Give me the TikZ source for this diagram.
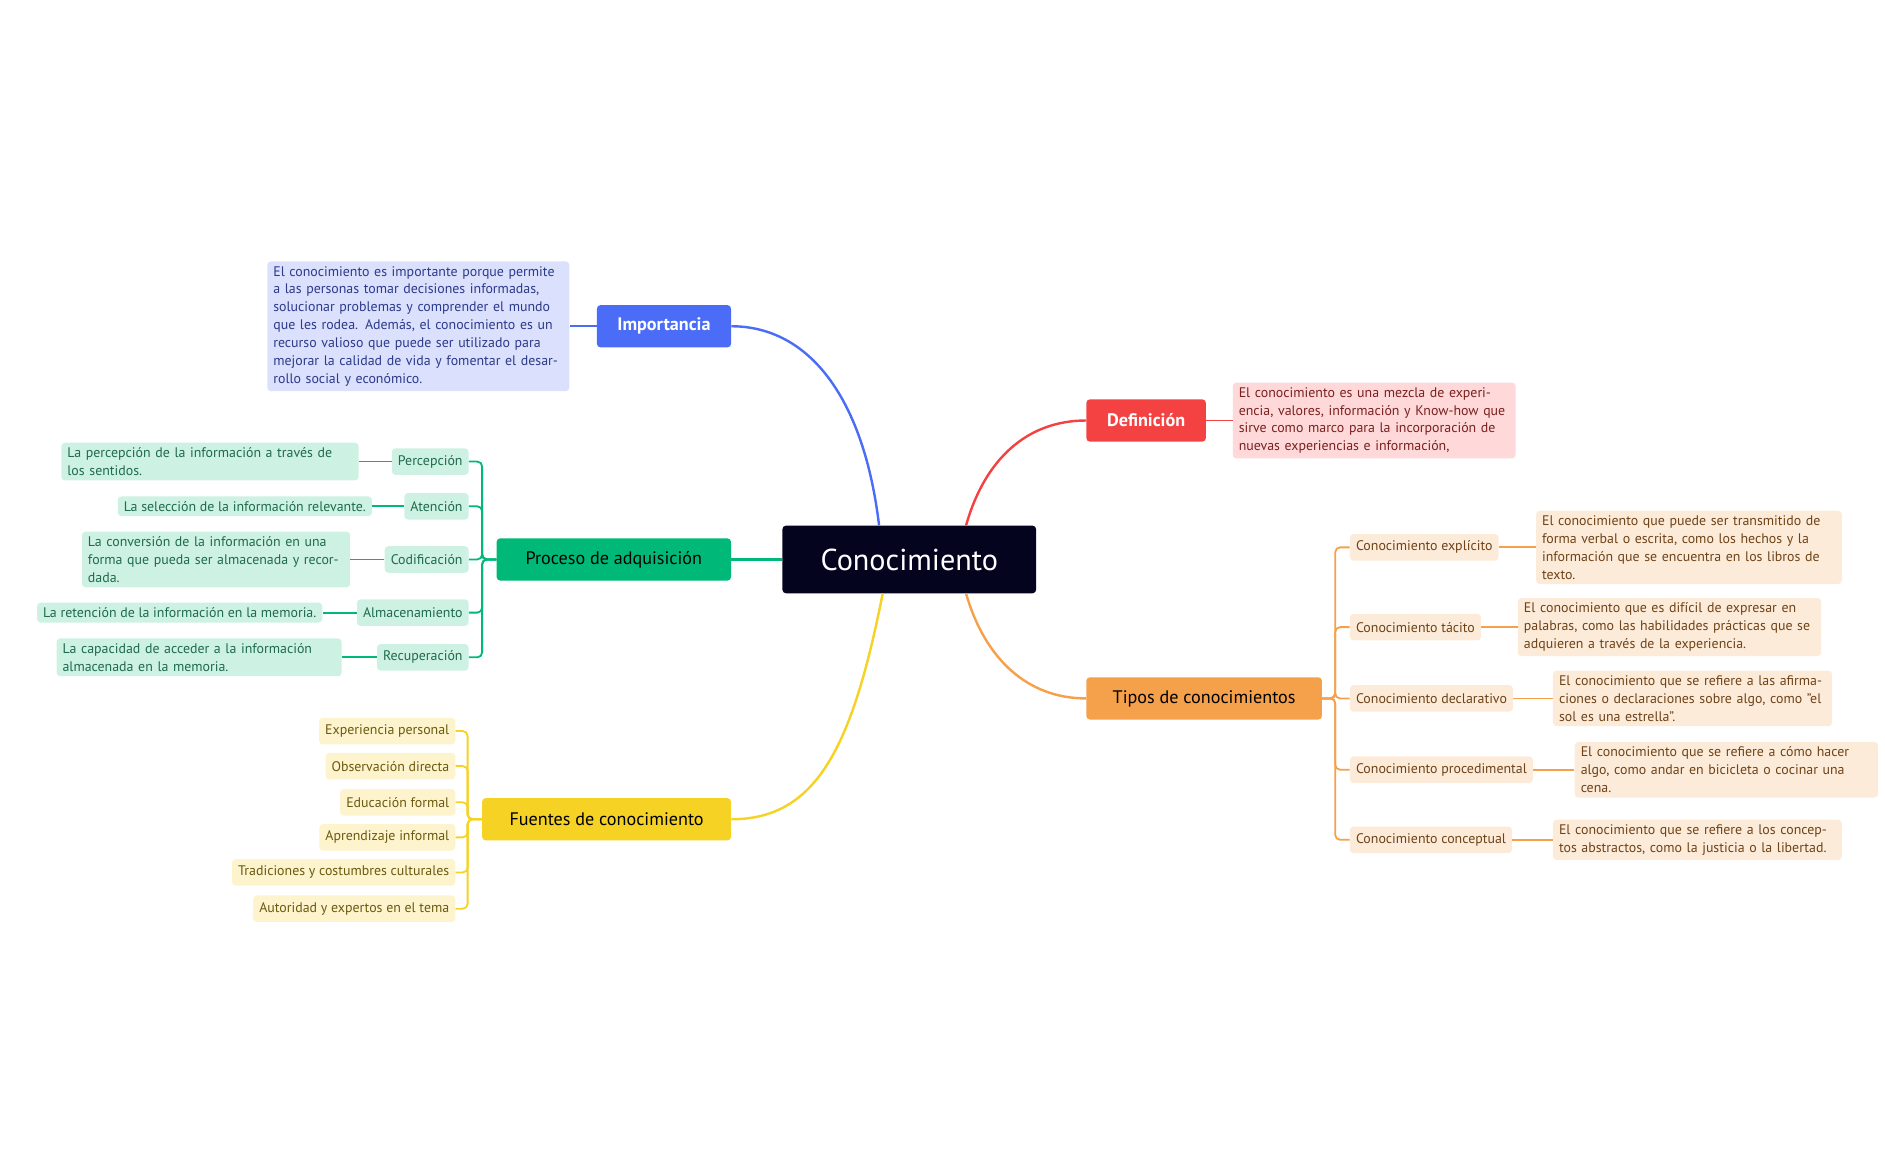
\documentclass[tikz,border=0pt]{standalone}
\usepackage{fontspec}
\setmainfont{PT Sans}
\usetikzlibrary{calc}
\definecolor{navy}{HTML}{05041F}
\definecolor{iblue}{HTML}{4A6CF7}\definecolor{iblueL}{HTML}{DBE0FD}\definecolor{iblueT}{HTML}{2C3A8A}
\definecolor{dred}{HTML}{F44242}\definecolor{dredL}{HTML}{FFD9D9}\definecolor{dredT}{HTML}{7A2020}
\definecolor{gor}{HTML}{F5A04A}\definecolor{gorL}{HTML}{FDEBD9}\definecolor{gorT}{HTML}{6E4318}
\definecolor{ggr}{HTML}{00B978}\definecolor{ggrL}{HTML}{CDF1E3}\definecolor{ggrT}{HTML}{1F6B4D}
\definecolor{gye}{HTML}{F5D223}\definecolor{gyeL}{HTML}{FDF3CC}\definecolor{gyeT}{HTML}{6B5A10}
\tikzset{
 x=1pt,y=1pt,
 main/.style={rounded corners=3, inner xsep=10, minimum height=35, font=\fontsize{15}{18}\selectfont},
 sub/.style={rounded corners=3, inner xsep=5, minimum height=22, font=\fontsize{11.5}{14.8}\selectfont},
 det/.style={rounded corners=3, inner xsep=5, inner ysep=4, align=left, font=\fontsize{11.5}{14.8}\selectfont},
}
\begin{document}
\begin{tikzpicture}
\useasboundingbox (0,0) rectangle (1560,-966);
% center
\node[fill=navy, text=white, rounded corners=3, minimum width=210, minimum height=56, font=\fontsize{25}{30}\selectfont] (C) at (752.5,-463) {Conocimiento};
% main branches
\node[main, fill=iblue, text=white, font=\fontsize{15}{18}\selectfont\bfseries, minimum width=111] (I) at (549.5,-270) {Importancia};
\node[main, fill=dred, text=white, font=\fontsize{15}{18}\selectfont\bfseries, minimum width=99] (D) at (948.5,-348) {Definición};
\node[main, fill=gor, minimum width=195] (T) at (996.5,-578) {Tipos de conocimientos};
\node[main, fill=ggr, minimum width=194] (P) at (508,-463) {Proceso de adquisición};
\node[main, fill=gye, minimum width=206] (F) at (502,-678) {Fuentes de conocimiento};
\begin{scope}[line width=2pt]
\draw[iblue] ($(C.north)+(-25,0)$) .. controls (715,-330) and (670,-270) .. (I.east);
\draw[dred] ($(C.north)+(47,0)$) .. controls (815,-380) and (850,-348) .. (D.west);
\draw[gor] ($(C.south)+(47,0)$) .. controls (815,-545) and (850,-578) .. (T.west);
\draw[ggr] (C.west) -- (P.east);
\draw[gye] ($(C.south)+(-22,0)$) .. controls (705,-620) and (675,-678) .. (F.east);
\end{scope}
% importancia detail
\node[det, fill=iblueL, text=iblueT, text width=240, anchor=west] (Id) at (221,-270) {El conocimiento es importante porque permite a las personas tomar decisiones informadas, solucionar problemas y comprender el mundo que les rodea. Además, el conocimiento es un recurso valioso que puede ser utilizado para mejorar la calidad de vida y fomentar el desarrollo social y económico.};
\draw[iblue, line width=1.5pt] (I.west) -- (Id.east);
% definicion detail
\node[det, fill=dredL, text=dredT, text width=224, anchor=west] (Dd) at (1020,-348) {El conocimiento es una mezcla de experiencia, valores, información y Know-how que sirve como marco para la incorporación de nuevas experiencias e información,};
\draw[dred, line width=1.5pt] (D.east) -- (Dd.west);
% proceso
\begin{scope}[every node/.style={sub, fill=ggrL, text=ggrT, anchor=east}]
\node (P1) at (388,-382) {Percepción};
\node (P2) at (388,-419) {Atención};
\node (P3) at (388,-463) {Codificación};
\node (P4) at (388,-507) {Almacenamiento};
\node (P5) at (388,-544) {Recuperación};
\end{scope}
\begin{scope}[every node/.style={det, fill=ggrL, text=ggrT, anchor=east}]
\node[text width=236] (P1d) at (297,-382) {La percepción de la información a través de los sentidos.};
\node (P2d) at (308,-419) {La selección de la información relevante.};
\node[text width=212] (P3d) at (290,-463) {La conversión de la información en una forma que pueda ser almacenada y recordada.};
\node (P4d) at (267,-507) {La retención de la información en la memoria.};
\node[text width=226] (P5d) at (283,-544) {La capacidad de acceder a la información almacenada en la memoria.};
\end{scope}
\begin{scope}[ggr, line width=1.5pt]
\foreach \i in {1,...,5}{\draw[rounded corners=4] (P.west) -- (399,-463) |- (P\i.east); \draw (P\i.west) -- (P\i d.east);}
\end{scope}
% fuentes
\begin{scope}[every node/.style={sub, fill=gyeL, text=gyeT, anchor=east}]
\node (F1) at (377,-605) {Experiencia personal};
\node (F2) at (377,-634) {Observación directa};
\node (F3) at (377,-664) {Educación formal};
\node (F4) at (377,-693) {Aprendizaje informal};
\node (F5) at (377,-722) {Tradiciones y costumbres culturales};
\node (F6) at (377,-752) {Autoridad y expertos en el tema};
\end{scope}
\begin{scope}[gye, line width=1.5pt]
\foreach \i in {1,...,6}{\draw[rounded corners=4] (F.west) -- (387,-678) |- (F\i.east);}
\end{scope}
% tipos
\begin{scope}[every node/.style={sub, fill=gorL, text=gorT, anchor=west}]
\node (T1) at (1117,-453) {Conocimiento explícito};
\node (T2) at (1117,-519) {Conocimiento tácito};
\node (T3) at (1117,-578) {Conocimiento declarativo};
\node (T4) at (1117,-637) {Conocimiento procedimental};
\node (T5) at (1117,-695) {Conocimiento conceptual};
\end{scope}
\begin{scope}[every node/.style={det, fill=gorL, text=gorT, anchor=west}]
\node[text width=243] (T1d) at (1271,-453) {El conocimiento que puede ser transmitido de forma verbal o escrita, como los hechos y la información que se encuentra en los libros de texto.};
\node[text width=241] (T2d) at (1256,-519) {El conocimiento que es difícil de expresar en palabras, como las habilidades prácticas que se adquieren a través de la experiencia.};
\node[text width=221] (T3d) at (1285,-578) {El conocimiento que se refiere a las afirmaciones o declaraciones sobre algo, como "el sol es una estrella".};
\node[text width=241] (T4d) at (1303,-637) {El conocimiento que se refiere a cómo hacer algo, como andar en bicicleta o cocinar una cena.};
\node[text width=229] (T5d) at (1285,-695) {El conocimiento que se refiere a los conceptos abstractos, como la justicia o la libertad.};
\end{scope}
\begin{scope}[gor, line width=1.5pt]
\foreach \i in {1,...,5}{\draw[rounded corners=4] (T.east) -- (1105,-578) |- (T\i.west); \draw (T\i.east) -- (T\i d.west);}
\end{scope}
\end{tikzpicture}
\end{document}
